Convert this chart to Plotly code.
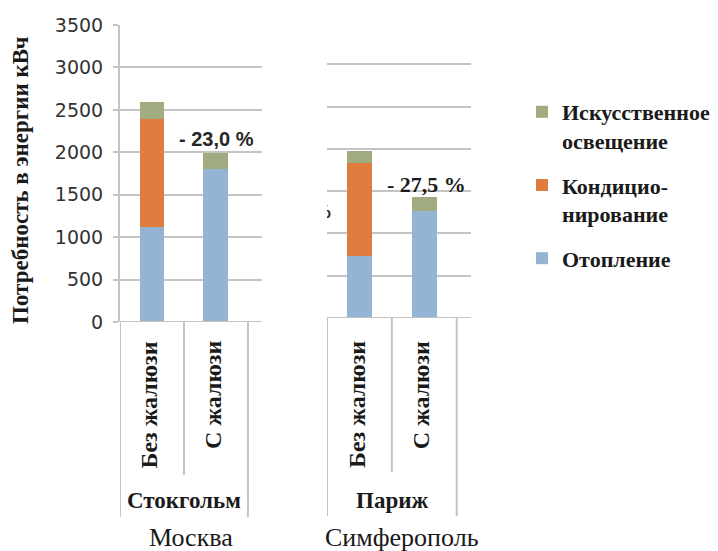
import plotly.graph_objects as go

# ---- data ----
variants = ["Без жалюзи", "С жалюзи"]
cities_top = ["Стокгольм", "Париж"]
cities_bottom = ["Москва", "Симферополь"]
series_names = ["Отопление", "Кондицио-<br>нирование", "Искусственное<br>освещение"]
series_colors = ["#93B4D3", "#E07C3E", "#A0AB7F"]

# values [Без жалюзи, С жалюзи]
stockholm_heating = [1120, 1800]
stockholm_cooling = [1270, 0]
stockholm_light = [200, 190]

paris_heating = [730, 1270]
paris_cooling = [1100, 0]
paris_light = [150, 160]

reductions = ["- 23,0 %", "- 27,5 %"]
yticks = [0, 500, 1000, 1500, 2000, 2500, 3000, 3500]

W, H = 718, 551
def px(x):
    return x / W
def py(y):
    return 1 - y / H

GRID = "#C4C4C4"
SERIF = "Liberation Serif"
TXT = "#1A1A1A"

fig = go.Figure()
xs = [0, 1]
panels = [
    ("x", "y", [stockholm_heating, stockholm_cooling, stockholm_light]),
    ("x2", "y2", [paris_heating, paris_cooling, paris_light]),
]
for pi, (xa, ya, vals) in enumerate(panels):
    for si, v in enumerate(vals):
        fig.add_trace(go.Bar(
            x=xs, y=v, xaxis=xa, yaxis=ya, width=0.39,
            marker=dict(color=series_colors[si], line=dict(width=0)),
            name=f"<b>{series_names[si]}</b>", legendgroup=str(si),
            legendrank=10 - si,
            showlegend=(pi == 0), hoverinfo="skip",
        ))

# clipped fragment of a percent sign at the left edge of the right panel
fig.add_trace(go.Scatter(
    x=[-0.57], y=[1240], xaxis="x2", yaxis="y2", mode="text", text=["%"],
    textfont=dict(family="Liberation Sans", size=19, color="#262626"),
    cliponaxis=True, showlegend=False, hoverinfo="skip",
    texttemplate="<b>%{text}</b>",
))

yax_common = dict(range=[0, 3500], tickvals=yticks, showgrid=True,
                  gridcolor=GRID, gridwidth=2, zeroline=False, fixedrange=True)
fig.update_layout(
    width=W, height=H, margin=dict(l=0, r=0, t=0, b=0, autoexpand=False),
    paper_bgcolor="white", plot_bgcolor="white",
    barmode="stack", showlegend=True,
    xaxis=dict(domain=[px(120), px(262)], range=[-0.5, 1.72], visible=False,
               fixedrange=True),
    xaxis2=dict(domain=[px(327), px(471)], range=[-0.5, 1.72], visible=False,
                fixedrange=True),
    yaxis=dict(domain=[py(322), py(25)], anchor="x", showline=True, linecolor=GRID,
               linewidth=2, ticks="outside", ticklen=5, tickcolor=GRID, tickwidth=2,
               ticklabelstandoff=6,
               tickfont=dict(family="DejaVu Sans", size=19, color="#333333"),
               **yax_common),
    yaxis2=dict(domain=[py(318), py(22)], anchor="x2", showline=False,
                showticklabels=False, **yax_common),
    legend=dict(x=px(522), y=py(91), xanchor="left", yanchor="top",
                traceorder="grouped", tracegroupgap=13, valign="top",
                font=dict(family=SERIF, size=22, color=TXT),
                itemclick=False, itemdoubleclick=False),
)

# axis lines at zero
for xa, ya in [("x", "y"), ("x2", "y2")]:
    fig.add_shape(type="line", xref=f"{xa} domain", yref=ya, x0=0, x1=1, y0=0, y1=0,
                  line=dict(color=GRID, width=2))

# category divider lines
dividers = [(-0.5, True), (0.5, False), (1.5, True)]
for xa, ytop, long_end, short_end in [("x", 322, 517, 475), ("x2", 318, 516, 472)]:
    for xv, is_long in dividers:
        fig.add_shape(type="line", xref=xa, yref="paper", x0=xv, x1=xv,
                      y0=py(ytop), y1=py(long_end if is_long else short_end),
                      line=dict(color=GRID, width=2))

ann = []
# y title
ann.append(dict(text="<b>Потребность в энергии кВч</b>", x=px(20), y=py(181),
                xref="paper", yref="paper", textangle=-90, showarrow=False,
                xanchor="center", yanchor="middle",
                font=dict(family=SERIF, size=23, color=TXT)))
# rotated variant labels
for xa in ["x", "x2"]:
    for i, v in enumerate(variants):
        ann.append(dict(text=f"<b>{v}</b>", x=xs[i], y=py(339), xref=xa, yref="paper",
                        textangle=-90, yanchor="top", xanchor="center", xshift=-3,
                        showarrow=False,
                        font=dict(family=SERIF, size=24, color=TXT)))
# city group labels
for xa, c in zip(["x", "x2"], cities_top):
    ann.append(dict(text=f"<b>{c}</b>", x=0.5, y=py(500), xref=xa, yref="paper",
                    xanchor="center", yanchor="middle",
                    showarrow=False, font=dict(family=SERIF, size=23, color=TXT)))
# bottom city labels
for xp, c in zip([191, 402], cities_bottom):
    ann.append(dict(text=c, x=px(xp), y=py(537), xref="paper", yref="paper",
                    xanchor="center", yanchor="middle",
                    showarrow=False, font=dict(family=SERIF, size=26, color=TXT)))
# reduction labels
ann.append(dict(text=f"<b>{reductions[0]}</b>", x=1.0, y=2000, xref="x", yref="y",
                yanchor="bottom", xanchor="center", showarrow=False, xshift=1,
                font=dict(family="Liberation Sans", size=20, color="#262626")))
ann.append(dict(text=f"<b>{reductions[1]}</b>", x=1.0, y=1410, xref="x2", yref="y2",
                yanchor="bottom", xanchor="center", showarrow=False, xshift=2,
                font=dict(family=SERIF, size=22, color=TXT)))
fig.update_layout(annotations=ann)

fig.write_html("out.html", config={"displayModeBar": False},
               post_script="document.body.style.margin='0';document.body.style.overflow='hidden';")
